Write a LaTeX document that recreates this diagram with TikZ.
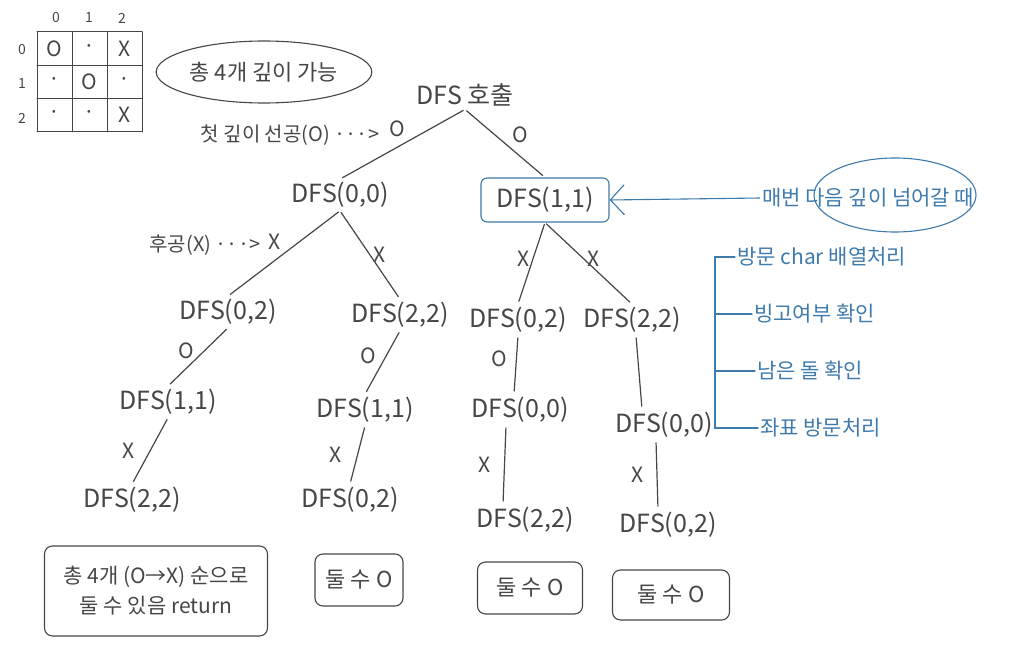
\documentclass[tikz,border=0pt]{standalone}
\usepackage{fontspec}
\setmainfont{Noto Sans CJK KR}
\usetikzlibrary{positioning, arrows.meta, shapes.geometric, calc}
\definecolor{pencil}{RGB}{70,70,70}
\definecolor{pen}{RGB}{62,122,172}

\begin{document}
\begin{tikzpicture}[
    x=1pt, y=-1pt,
    call/.style={font=\fontsize{25}{28}\selectfont, text=pencil, inner sep=3pt},
    note/.style={font=\fontsize{20}{24}\selectfont, text=pencil, inner sep=2pt},
    lbl/.style={font=\fontsize{21}{22}\selectfont, text=pencil, inner sep=3pt},
    edge/.style={draw=pencil, line width=1.2pt, line cap=round, shorten <=2pt, shorten >=3pt},
    result/.style={draw=pencil, line width=1.1pt, rounded corners=8pt, font=\fontsize{21}{30}\selectfont, text=pencil, align=center, inner sep=4pt},
    bluenote/.style={font=\fontsize{21}{26}\selectfont, text=pen, inner sep=2pt},
    blueline/.style={draw=pen, line width=1.1pt, line cap=round}
]
    \useasboundingbox (0,0) rectangle (1031,652);

    % board
    \foreach \i in {0,...,3} {
        \draw[edge, line width=1pt, shorten <=0pt, shorten >=0pt] (37+35*\i,32) -- (37+35*\i,132);
        \draw[edge, line width=1pt, shorten <=0pt, shorten >=0pt] (37,32+33.3*\i) -- (142,32+33.3*\i);
    }
    \foreach \c in {0,1,2} {
        \node[lbl, font=\fontsize{14}{16}\selectfont] at (56+33*\c,18) {\c};
        \node[lbl, font=\fontsize{14}{16}\selectfont] at (22,50+34*\c) {\c};
    }
    \foreach \r/\c/\s in {0/0/O, 0/1/·, 0/2/X, 1/0/·, 1/1/O, 1/2/·, 2/0/·, 2/1/·, 2/2/X}
        \node[lbl] at (54.5+35*\c,48.5+33.3*\r) {\s};

    \node[note, font=\fontsize{22}{26}\selectfont, draw=pencil, line width=1.1pt, ellipse, minimum width=182, minimum height=62] (total) at (264,72) {총 4개 깊이 가능};

    % call tree
    \node[call] (root) at (465,95) {DFS 호출};
    \node[call] (d00) at (340,195) {DFS(0,0)};
    \node[call, draw=pen, line width=1.1pt, rounded corners=6pt, minimum width=128, minimum height=44] (d11) at (545,200) {DFS(1,1)};

    \node[call] (a02) at (228,312) {DFS(0,2)};
    \node[call] (a22) at (400,315) {DFS(2,2)};
    \node[call] (b02) at (518,320) {DFS(0,2)};
    \node[call] (b22) at (632,320) {DFS(2,2)};

    \node[call] (a11) at (168,402) {DFS(1,1)};
    \node[call] (c11) at (365,410) {DFS(1,1)};
    \node[call] (b00) at (520,410) {DFS(0,0)};
    \node[call] (e00) at (664,425) {DFS(0,0)};

    \node[call] (a22x) at (132,500) {DFS(2,2)};
    \node[call] (c02) at (350,500) {DFS(0,2)};
    \node[call] (b22x) at (525,520) {DFS(2,2)};
    \node[call] (e02) at (668,525) {DFS(0,2)};

    \draw[edge] (root.south) -- (d00.north) node[lbl, pos=.45, above left] {O};
    \draw[edge] (root.south) -- (d11.north) node[lbl, pos=.55, above right] {O};
    \draw[edge] (d00.south) -- (a02.north) node[lbl, pos=.5, above left] {X};
    \draw[edge] (d00.south) -- (a22.north) node[lbl, pos=.5, right] {X};
    \draw[edge] (d11.south) -- (b02.north) node[lbl, pos=.45, left] {X};
    \draw[edge] (d11.south) -- (b22.north) node[lbl, pos=.45, right] {X};
    \draw[edge] (a02.south) -- (a11.north) node[lbl, pos=.4, left=6pt] {O};
    \draw[edge] (a22.south) -- (c11.north) node[lbl, pos=.4, left=6pt] {O};
    \draw[edge] (b02.south) -- ([xshift=-6pt]b00.north) node[lbl, pos=.4, left=6pt] {O};
    \draw[edge] ([xshift=4pt]b22.south) -- ([xshift=-22pt]e00.north);
    \draw[edge] (a11.south) -- (a22x.north) node[lbl, pos=.5, left=12pt] {X};
    \draw[edge] (c11.south) -- (c02.north) node[lbl, pos=.5, left=12pt] {X};
    \draw[edge] ([xshift=-14pt]b00.south) -- ([xshift=-22pt]b22x.north) node[lbl, pos=.5, left=10pt] {X};
    \draw[edge] ([xshift=-8pt]e00.south) -- ([xshift=-10pt]e02.north) node[lbl, pos=.5, left=10pt] {X};

    \node[note] (first) at (290,135) {첫 깊이 선공(O) ···>};
    \node[note] (second) at (205,245) {후공(X) ···>};

    % results
    \node[result, minimum width=223, minimum height=90] (r1) at (156,591) {총 4개 (O→X) 순으로\\둘 수 있음 return};
    \node[result, font=\fontsize{22}{26}\selectfont, minimum width=88, minimum height=52] (r2) at (359,580) {둘 수 O};
    \node[result, font=\fontsize{22}{26}\selectfont, minimum width=105, minimum height=52] (r3) at (530,588) {둘 수 O};
    \node[result, font=\fontsize{22}{26}\selectfont, minimum width=117, minimum height=50] (r4) at (671,595) {둘 수 O};

    % side notes
    \node[bluenote] (every) at (868,198) {매번 다음 깊이 넘어갈 때};
    \node[draw=pen, line width=1.1pt, ellipse, minimum width=162, minimum height=74] (focus) at (895,195) {};
    \draw[blueline, -{Straight Barb[length=14pt, width=30pt]}] (every.west) -- (d11.east);

    \node[bluenote, anchor=west] (s1) at (735,257) {방문 char 배열처리};
    \node[bluenote, anchor=west] (s2) at (752,314) {빙고여부 확인};
    \node[bluenote, anchor=west] (s3) at (755,371) {남은 돌 확인};
    \node[bluenote, anchor=west] (s4) at (758,428) {좌표 방문처리};
    \coordinate (brtop) at (715,257);
    \draw[blueline] (s1.west) -- (brtop) -- (brtop |- s4.west) -- (s4.west);
    \draw[blueline] (brtop |- s2.west) -- (s2.west);
    \draw[blueline] (brtop |- s3.west) -- (s3.west);

\end{tikzpicture}
\end{document}
